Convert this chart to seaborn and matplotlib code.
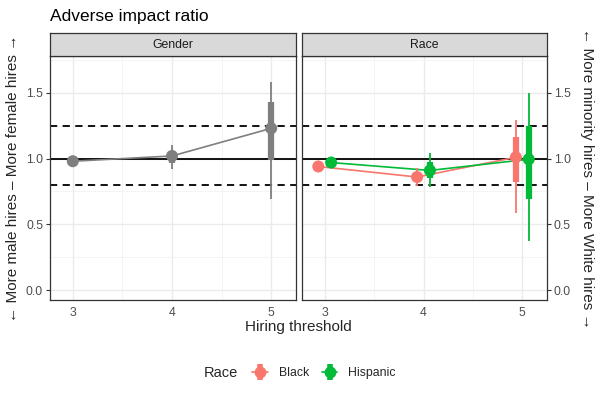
import numpy as np
import pandas as pd
import matplotlib
matplotlib.use('Agg')
import matplotlib.pyplot as plt
import seaborn as sns
from matplotlib.lines import Line2D
from matplotlib.ticker import MultipleLocator, FormatStrFormatter
from matplotlib.offsetbox import HPacker

# Данные: коэффициент неблагоприятного воздействия по порогу найма
thresholds = [3, 4, 5]

gender_est = [0.98, 1.02, 1.23]
gender_lo80 = [0.97, 0.97, 0.99]
gender_hi80 = [0.99, 1.06, 1.43]
gender_lo95 = [0.96, 0.92, 0.69]
gender_hi95 = [1.00, 1.10, 1.58]

race_groups = ['Black', 'Hispanic']
black_est = [0.94, 0.86, 1.01]
black_lo80 = [0.93, 0.83, 0.82]
black_hi80 = [0.95, 0.89, 1.165]
black_lo95 = [0.92, 0.79, 0.59]
black_hi95 = [0.96, 0.93, 1.29]

hisp_est = [0.97, 0.91, 0.995]
hisp_lo80 = [0.95, 0.85, 0.69]
hisp_hi80 = [0.99, 0.977, 1.25]
hisp_lo95 = [0.94, 0.786, 0.37]
hisp_hi95 = [1.00, 1.04, 1.50]

ref_lines = [0.8, 1.25]

sns.set_theme(style='white')
plt.rcParams['font.family'] = ['Liberation Sans', 'DejaVu Sans']

colors = {'Gender': '#7F7F7F', 'Black': '#F8766D', 'Hispanic': '#00BA38'}
dodge = {'Gender': 0.0, 'Black': -0.065, 'Hispanic': 0.065}

rows = []
for grp, est, l8, h8, l9, h9 in [
        ('Gender', gender_est, gender_lo80, gender_hi80, gender_lo95, gender_hi95),
        ('Black', black_est, black_lo80, black_hi80, black_lo95, black_hi95),
        ('Hispanic', hisp_est, hisp_lo80, hisp_hi80, hisp_lo95, hisp_hi95)]:
    for i, t in enumerate(thresholds):
        rows.append({'group': grp, 'threshold': t, 'x': t + dodge[grp],
                     'est': est[i], 'lo80': l8[i], 'hi80': h8[i],
                     'lo95': l9[i], 'hi95': h9[i]})
df = pd.DataFrame(rows)

W, H = 600, 400
fig = plt.figure(figsize=(6, 4), dpi=100)
panels = [('Gender', 50, 296, ['Gender']), ('Race', 302, 547, race_groups)]
axes = []
for name, x0, x1, groups in panels:
    ax = fig.add_axes([x0 / W, 1 - 300 / H, (x1 - x0) / W, 244 / H])
    sax = fig.add_axes([x0 / W, 1 - 56 / H, (x1 - x0) / W, 23 / H])
    sax.set_facecolor('#D9D9D9')
    sax.set_xticks([])
    sax.set_yticks([])
    for s in sax.spines.values():
        s.set_color('#333333')
        s.set_linewidth(0.9)
    sax.text(0.5, 0.5, name, ha='center', va='center', fontsize=8.8,
             color='#1A1A1A', transform=sax.transAxes)

    ax.set_xlim(2.77, 5.25)
    ax.set_ylim(-0.075, 1.78)
    ax.xaxis.set_major_locator(MultipleLocator(1))
    ax.xaxis.set_minor_locator(MultipleLocator(0.5))
    ax.yaxis.set_major_locator(MultipleLocator(0.5))
    ax.yaxis.set_minor_locator(MultipleLocator(0.25))
    ax.grid(True, which='major', color='#EBEBEB', linewidth=1.0)
    ax.grid(True, which='minor', color='#F2F2F2', linewidth=0.6)
    ax.set_axisbelow(True)
    for s in ax.spines.values():
        s.set_color('#333333')
        s.set_linewidth(0.9)

    ax.axhline(1.0, color='black', linewidth=1.3, zorder=2)
    for r in ref_lines:
        ax.axhline(r, color='black', linewidth=1.3, linestyle=(0, (4, 3)), zorder=2)

    sub = df[df['group'].isin(groups)]
    sns.lineplot(data=sub, x='x', y='est', hue='group', palette=colors,
                 linewidth=1.2, legend=False, ax=ax, zorder=3)
    for grp in groups:
        g = sub[sub['group'] == grp]
        ax.vlines(g['x'], g['lo95'], g['hi95'], color=colors[grp], linewidth=1.3, zorder=4)
        ax.vlines(g['x'], g['lo80'], g['hi80'], color=colors[grp], linewidth=4.5, zorder=4)
    sns.scatterplot(data=sub, x='x', y='est', hue='group', palette=colors,
                    s=75, linewidth=0, legend=False, ax=ax, zorder=5)

    ax.set_xlabel('')
    ax.set_ylabel('')
    ax.tick_params(axis='both', labelsize=8.8, colors='#333333', length=3,
                   width=0.8, pad=2, labelcolor='#4D4D4D')
    ax.tick_params(which='minor', length=0)
    ax.yaxis.set_major_formatter(FormatStrFormatter('%.1f'))
    axes.append(ax)

axes[0].tick_params(axis='y', left=True, right=False)
axes[1].yaxis.tick_right()
axes[1].tick_params(axis='y', left=False, right=True, labelsize=8.8,
                    colors='#333333', labelcolor='#4D4D4D', length=3)

fig.text(50 / W, 1 - 16 / H, 'Adverse impact ratio', fontsize=12.5,
         ha='left', va='center', color='black')
fig.text(298 / W, 1 - 327 / H, 'Hiring threshold', fontsize=11,
         ha='center', va='center')
fig.text(13 / W, 1 - 178 / H, '\u2190 More male hires \u2013 More female hires \u2192',
         rotation=90, fontsize=11, ha='center', va='center')
fig.text(587 / W, 1 - 178 / H, '\u2190 More minority hires \u2013 More White hires \u2192',
         rotation=-90, fontsize=11, ha='center', va='center')

handles = []
for grp in race_groups:
    handles.append((Line2D([], [], color=colors[grp], linewidth=1.2),
                    Line2D([], [], color=colors[grp], marker='|', markersize=12,
                           markeredgewidth=4, linestyle='none'),
                    Line2D([], [], color=colors[grp], marker='o', markersize=7.5,
                           linestyle='none')))
leg = fig.legend(handles, race_groups, title='Race', loc='center',
                 bbox_to_anchor=(300 / W, 1 - 373 / H), ncol=2, frameon=False,
                 fontsize=8.8, title_fontsize=10.5, handlelength=1.3,
                 columnspacing=1.0, handletextpad=0.9)
# заголовок легенды слева от элементов
title_box = leg._legend_title_box
handle_box = leg._legend_handle_box
leg._legend_box._children = [HPacker(pad=0, sep=10, align='center',
                                     children=[title_box, handle_box])]

fig.savefig('out.png', dpi=100)
